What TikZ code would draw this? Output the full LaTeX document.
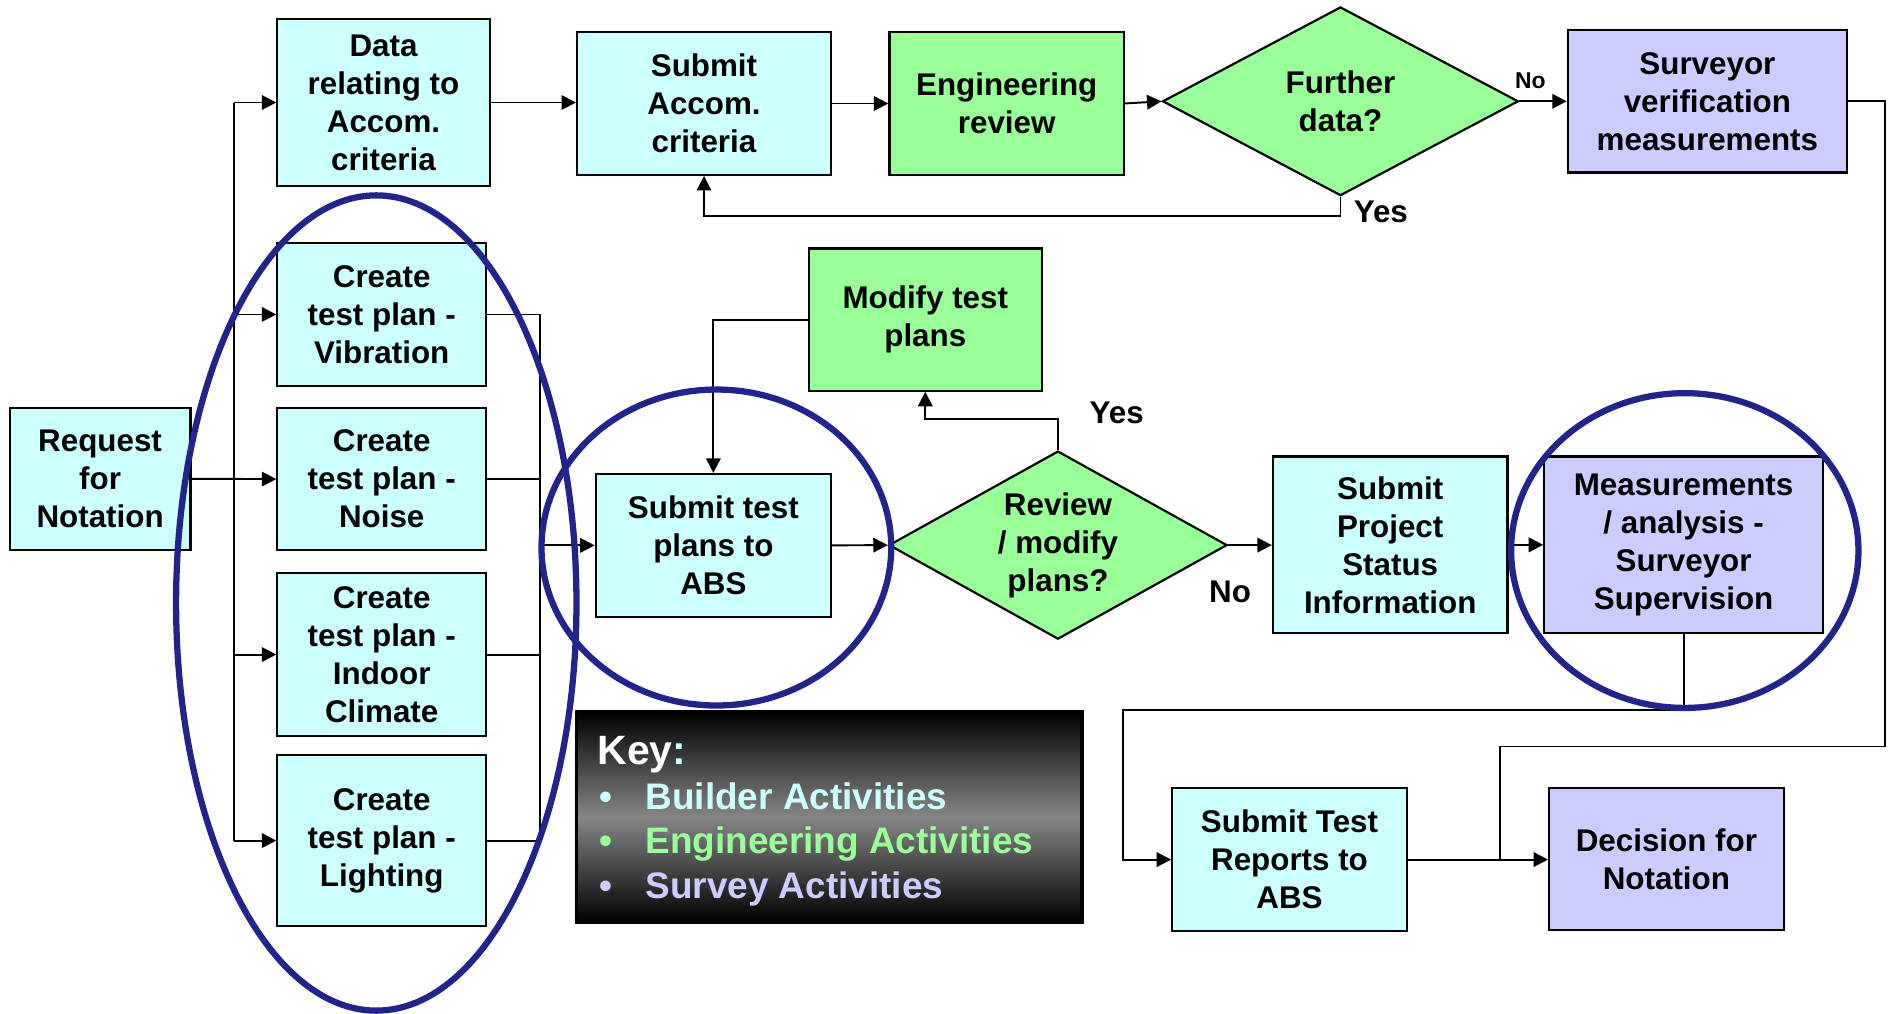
\documentclass[tikz,border=0pt]{standalone}
\usepackage{fontspec}
\setmainfont{Liberation Sans}
\usetikzlibrary{shapes.geometric,arrows.meta}
\definecolor{bcyan}{HTML}{CCFFFF}
\definecolor{bgreen}{HTML}{99FF99}
\definecolor{blav}{HTML}{CCCCFF}
\definecolor{ringblue}{RGB}{35,35,140}
\begin{document}
\begin{tikzpicture}[x=0.5pt,y=-0.5pt,
 box/.style={draw, line width=0.9pt, align=center, inner sep=0pt, font=\fontsize{13}{15.75}\selectfont\bfseries},
 bld/.style={box, fill=bcyan},
 engb/.style={box, fill=bgreen},
 srv/.style={box, fill=blav},
 dia/.style={box, diamond, fill=bgreen, shape aspect=1.8},
 arr/.style={line width=0.8pt, -{Triangle[length=6pt,width=6pt]}},
 ln/.style={line width=0.8pt},
 ring/.style={draw=ringblue, line width=2.6pt},
 lbl/.style={font=\fontsize{13}{15}\selectfont\bfseries, inner sep=0pt},
 keyt/.style={font=\fontsize{15.3}{18}\selectfont\bfseries, inner sep=0pt, anchor=base west},
]
\useasboundingbox (0,0) rectangle (1568,840);

% nodes
\node[bld, minimum width=75pt, minimum height=59pt] (req) at (83,397) {Request\\for\\Notation};
\node[bld, minimum width=88pt, minimum height=69pt] (data) at (318,85) {Data\\relating to\\Accom.\\criteria};
\node[bld, minimum width=86.5pt, minimum height=59.25pt] (vib) at (316.5,260.75) {Create\\test plan -\\Vibration};
\node[bld, minimum width=86.5pt, minimum height=58.75pt] (noise) at (316.5,397.25) {Create\\test plan -\\Noise};
\node[bld, minimum width=86.5pt, minimum height=67.75pt] (indoor) at (316.5,542.75) {Create\\test plan -\\Indoor\\Climate};
\node[bld, minimum width=86.5pt, minimum height=71pt] (light) at (316.5,697) {Create\\test plan -\\Lighting};
\node[bld, minimum width=105.25pt, minimum height=59.2pt] (subacc) at (583.75,85.8) {Submit\\Accom.\\criteria};
\node[engb, minimum width=97.25pt, minimum height=59.2pt] (eng) at (834.75,85.8) {Engineering\\review};
\node[dia, minimum width=147.5pt, minimum height=78.25pt] (further) at (1111.5,84) {Further\\data?};
\node[srv, minimum width=115.75pt, minimum height=59pt] (surv) at (1415.75,84) {Surveyor\\verification\\measurements};
\node[engb, minimum width=96.75pt, minimum height=59pt] (modify) at (767.25,265) {Modify test\\plans};
\node[bld, minimum width=97.5pt, minimum height=59.2pt] (subtp) at (591.5,452.2) {Submit test\\plans to\\ABS};
\node[dia, minimum width=140.25pt, minimum height=78pt] (review) at (877.25,452) {Review\\/ modify\\plans?};
\node[bld, minimum width=97.25pt, minimum height=73.25pt] (status) at (1152.75,451.75) {Submit\\Project\\Status\\Information};
\node[srv, minimum width=115.5pt, minimum height=73.25pt] (meas) at (1396,451.75) {Measurements\\/ analysis -\\Surveyor\\Supervision};
\node[bld, minimum width=97.25pt, minimum height=59.25pt] (str) at (1069.25,712.75) {Submit Test\\Reports to\\ABS};
\node[srv, minimum width=97.25pt, minimum height=58.75pt] (dec) at (1381.75,712.25) {Decision for\\Notation};

% key
\node[draw=black, line width=1.5pt, top color=black, bottom color=black, middle color=gray!95!white, minimum width=209.5pt, minimum height=87.5pt, inner sep=0pt] (key) at (687.5,677.5) {};
\node[font=\fontsize{17}{20}\selectfont\bfseries, inner sep=0pt, anchor=base west, text=white] (keyh) at (495,634) {Key\textcolor{bcyan}{:}};
\node[keyt, text=bcyan] (b1) at (497,671) {•};
\node[keyt, text=bcyan] (t1) at (535,671) {Builder Activities};
\node[keyt, text=bgreen] (b2) at (497,708) {•};
\node[keyt, text=bgreen] (t2) at (535,708) {Engineering Activities};
\node[keyt, text=blav] (b3) at (497,745) {•};
\node[keyt, text=blav] (t3) at (535,745) {Survey Activities};

% left bus
\coordinate (bl1) at (194,85);
\coordinate (bl2) at (194,697);
\draw[ln] (bl1) -- (bl2);
\draw[arr] (req.east) -- (noise.west);
\draw[arr] (bl1 |- data.west) -- (data.west);
\draw[arr] (bl1 |- vib.west) -- (vib.west);
\draw[arr] (bl1 |- indoor.west) -- (indoor.west);
\draw[arr] (bl1 |- light.west) -- (light.west);

% right bus
\coordinate (br1) at (448,260.75);
\coordinate (br2) at (448,697);
\draw[ln] (vib.east) -- (br1) -- (br2) -- (light.east);
\draw[ln] (noise.east) -- (noise.east -| br1);
\draw[ln] (indoor.east) -- (indoor.east -| br1);
\draw[arr] (br1 |- subtp.west) -- (subtp.west);

% top row
\draw[arr] (data.east) -- (data.east -| subacc.west);
\draw[arr] (subacc.east) -- (subacc.east -| eng.west);
\draw[arr] (eng.east) -- (further.west);
\draw[arr] (further.east) -- (further.east -| surv.west);
\node[font=\fontsize{9.5}{11}\selectfont\bfseries, inner sep=0pt] (lno1) at (1269,67) {No};
\draw[arr] (further.south) -- ++(0,16) -| (subacc.south);
\node[lbl] (lyes1) at (1145,176) {Yes};

% middle row
\draw[arr] (modify.west) -| (subtp.north);
\draw[arr] (subtp.east) -- (review.west);
\draw[arr] (review.north) -- ++(0,-26) -| (modify.south);
\node[lbl] (lyes2) at (926,342) {Yes};
\draw[arr] (review.east) -- (review.east -| status.west);
\node[lbl] (lno2) at (1020,491) {No};
\draw[arr] (status.east) -- (status.east -| meas.west);

% lower connectors
\coordinate (m1) at (931.5,589);
\draw[arr] (meas.south) |- (m1) |- (str.west);
\draw[arr] (str.east) -- (str.east -| dec.west);
\coordinate (c1) at (1563,619);
\coordinate (jx) at (1244,619);
\draw[ln] (surv.east) -| (c1) -- (jx) -- (jx |- str.east);

% rings
\draw[ring] (312,500) ellipse [x radius=83pt, y radius=169pt];
\draw[ring] (594,454) ellipse [x radius=72.5pt, y radius=65.5pt];
\draw[ring] (1397,456.5) ellipse [x radius=72pt, y radius=65.25pt];
\end{tikzpicture}
\end{document}
